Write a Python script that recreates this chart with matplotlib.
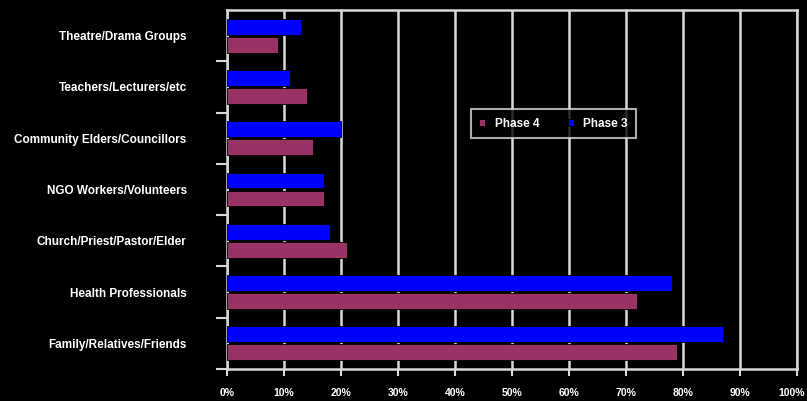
import numpy as np
import matplotlib.pyplot as plt
from matplotlib.transforms import ScaledTranslation

# Sources of information, top to bottom
categories = ["Theatre/Drama Groups", "Teachers/Lecturers/etc",
              "Community Elders/Councillors", "NGO Workers/Volunteers",
              "Church/Priest/Pastor/Elder", "Health Professionals",
              "Family/Relatives/Friends"]
phase3 = [13, 11, 20, 17, 18, 78, 87]
phase4 = [9, 14, 15, 17, 21, 72, 79]
xticks = [0, 10, 20, 30, 40, 50, 60, 70, 80, 90, 100]

blue = "#0000ff"
maroon = "#993366"
grid = "#d8d8d8"

plt.rcParams['font.family'] = ['Liberation Sans', 'DejaVu Sans']

fig = plt.figure(figsize=(8.07, 4.01), dpi=100, facecolor="black")
ax = fig.add_axes([0.2813, 0.0798, 0.7063, 0.8952], facecolor="black")

y = np.arange(len(categories))
h = 0.31
off = 0.175
ax.barh(y - off, phase3, height=h, color=blue, edgecolor="black",
        linewidth=0.6, label="Phase 3", zorder=3)
ax.barh(y + off, phase4, height=h, color=maroon, edgecolor="black",
        linewidth=0.6, label="Phase 4", zorder=3)

ax.set_xlim(0, 100)
ax.set_ylim(len(categories) - 0.5, -0.5)

ax.set_xticks(xticks)
ax.set_xticklabels([f"{v}%" for v in xticks], color="white",
                   fontsize=7.5, fontweight="bold")
ax.tick_params(axis="x", length=5, width=1.5, color=grid, pad=9)
ax.xaxis.grid(True, color=grid, linewidth=1.8, zorder=0)
# nudge the last label so it stays inside the figure
last = ax.get_xticklabels()[-1]
last.set_transform(last.get_transform() + ScaledTranslation(-4 / 72, 0, fig.dpi_scale_trans))

ax.set_yticks(y)
ax.set_yticklabels(categories, color="white", fontsize=8.5, fontweight="bold")
ax.tick_params(axis="y", which="major", length=0, pad=29)
ax.set_yticks(np.arange(len(categories)) + 0.5, minor=True)
ax.tick_params(axis="y", which="minor", length=8, width=1.5, color=grid)

for side in ax.spines.values():
    side.set_color(grid)
    side.set_linewidth(1.8)

handles, labels = ax.get_legend_handles_labels()
leg = ax.legend(handles[::-1], labels[::-1], ncol=2, loc="upper left",
                bbox_to_anchor=(0.418, 0.74), frameon=True, fancybox=False,
                facecolor="black", edgecolor=grid, handlelength=0.5,
                handleheight=0.5, columnspacing=2.4, borderpad=0.7,
                prop={'size': 8.5, 'weight': 'bold'})
leg.get_frame().set_linewidth(1.5)
for t in leg.get_texts():
    t.set_color("white")

fig.savefig("out.png", dpi=100, facecolor="black")
